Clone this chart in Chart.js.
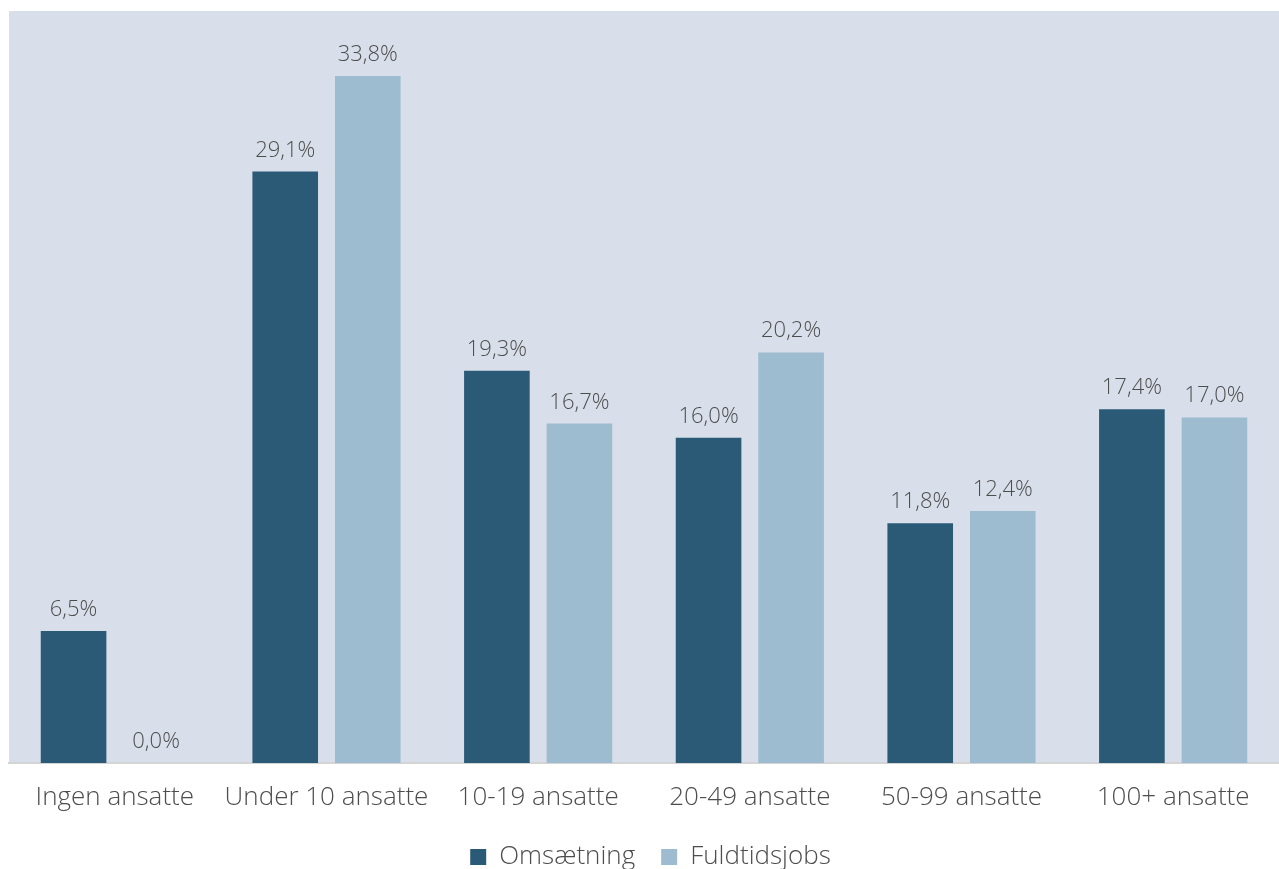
<!DOCTYPE html>
<html>
<head>
<meta charset="utf-8">
<script src="https://cdn.jsdelivr.net/npm/chart.js@4/dist/chart.umd.min.js"></script>
<style>
  html, body { margin: 0; padding: 0; background: #ffffff; overflow: hidden; }
  #wrap { width: 1279px; height: 869px; }
</style>
</head>
<body>
<div id="wrap"><canvas id="grafico"></canvas></div>
<script>
// Kategorier og serier
const kategorier = ["Ingen ansatte", "Under 10 ansatte", "10-19 ansatte", "20-49 ansatte", "50-99 ansatte", "100+ ansatte"];
const omsaetning = [6.5, 29.1, 19.3, 16.0, 11.8, 17.4];
const fuldtidsjobs = [0.0, 33.8, 16.7, 20.2, 12.4, 17.0];

const FONT = "'Open Sans', Lato, sans-serif";

// Baggrund for plotområdet
const baggrund = {
  id: "baggrund",
  beforeDraw(chart) {
    const { ctx, chartArea } = chart;
    ctx.save();
    ctx.fillStyle = "#d9dfea";
    ctx.fillRect(chartArea.left, chartArea.top, chartArea.right - chartArea.left, chartArea.bottom - chartArea.top);
    ctx.restore();
  },
};

// Fast højde på legenden
const legendeHoejde = {
  id: "legendeHoejde",
  afterInit(chart) {
    const legend = chart.legend;
    if (!legend) return;
    const fit = legend.fit.bind(legend);
    legend.fit = function () {
      fit();
      this.height = 51;
    };
  },
};

// Værdier over søjlerne
const etiketter = {
  id: "etiketter",
  afterDatasetsDraw(chart) {
    const { ctx } = chart;
    ctx.save();
    ctx.font = "300 22px " + FONT;
    ctx.fillStyle = "#4d4d4d";
    ctx.textAlign = "center";
    ctx.textBaseline = "alphabetic";
    chart.data.datasets.forEach((ds, i) => {
      chart.getDatasetMeta(i).data.forEach((bar, j) => {
        const txt = ds.data[j].toFixed(1).replace(".", ",") + "%";
        ctx.fillText(txt, bar.x, bar.y - 15);
      });
    });
    ctx.restore();
  },
};

new Chart(document.getElementById("grafico"), {
  type: "bar",
  data: {
    labels: kategorier,
    datasets: [
      { label: "Omsætning", data: omsaetning, backgroundColor: "#2b5a76" },
      { label: "Fuldtidsjobs", data: fuldtidsjobs, backgroundColor: "#9dbcd0" },
    ],
  },
  options: {
    responsive: true,
    maintainAspectRatio: false,
    animation: false,
    categoryPercentage: 0.78,
    barPercentage: 0.795,
    layout: { padding: { left: 9, top: 11, right: -13, bottom: 0 } },
    plugins: {
      tooltip: { enabled: false },
      legend: {
        position: "bottom",
        labels: {
          font: { family: FONT, size: 26, weight: "300" },
          color: "#4d4d4d",
          boxWidth: 16,
          boxHeight: 16,
          padding: 26,
        },
      },
    },
    scales: {
      x: {
        grid: { display: false, drawTicks: false },
        border: { display: true, color: "#d4d4d4", width: 2 },
        ticks: {
          font: { family: FONT, size: 26, weight: "300" },
          color: "#4d4d4d",
          padding: 19,
          maxRotation: 0,
          autoSkip: false,
        },
        afterFit(scale) { scale.height = 55; },
      },
      y: {
        display: false,
        min: 0,
        max: 37,
      },
    },
  },
  plugins: [baggrund, legendeHoejde, etiketter],
});
</script>
</body>
</html>
